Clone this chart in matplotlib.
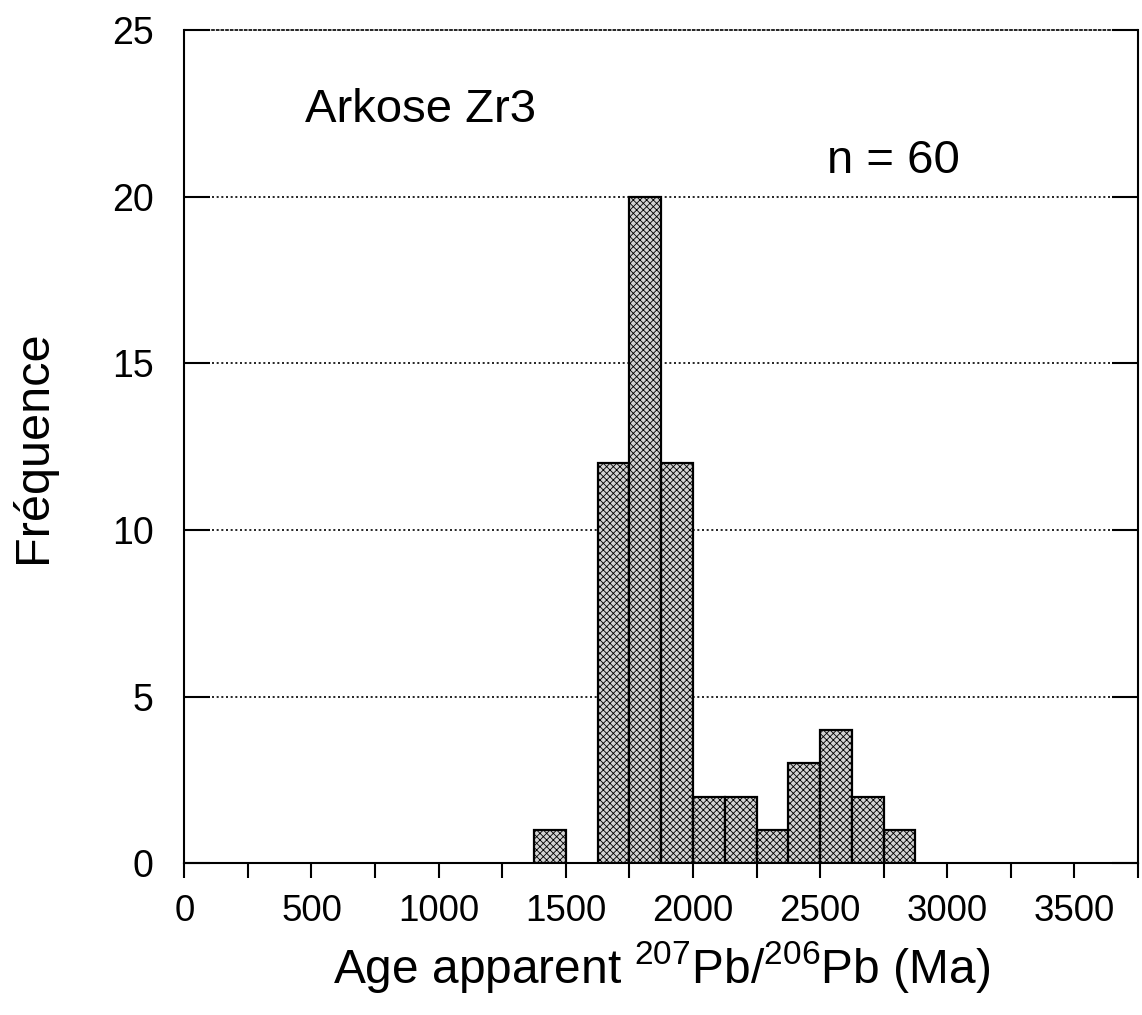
import numpy as np
import matplotlib
matplotlib.use('Agg')
import matplotlib.pyplot as plt
from matplotlib.ticker import MultipleLocator

plt.rcParams['font.family'] = ['Liberation Sans', 'DejaVu Sans']
plt.rcParams['mathtext.fontset'] = 'custom'
plt.rcParams['mathtext.rm'] = 'Liberation Sans'
plt.rcParams['hatch.linewidth'] = 0.6
plt.rcParams['hatch.color'] = '#7a7a7a'

# Histogram data (bin start in Ma, count per 125 Ma bin)
bin_starts = [1375, 1625, 1750, 1875, 2000, 2125, 2250, 2375, 2500, 2625, 2750]
counts = [1, 12, 20, 12, 2, 2, 1, 3, 4, 2, 1]
bin_width = 125

sample_name = 'Arkose Zr3'
n_label = 'n = 60'
x_ticks = [0, 500, 1000, 1500, 2000, 2500, 3000, 3500]
y_ticks = [0, 5, 10, 15, 20, 25]

fig = plt.figure(figsize=(11.42, 10.15), dpi=100)
ax = fig.add_axes([0.1614, 0.1493, 0.9965 - 0.1614, 0.9704 - 0.1493])

ax.bar(bin_starts, counts, width=bin_width, align='edge',
       facecolor='#d2d2d2', edgecolor='black', linewidth=1.6,
       hatch='xxxxx', zorder=3)

ax.set_xlim(0, 3750)
ax.set_ylim(0, 25)

# dotted horizontal grid
for y in y_ticks[1:-1]:
    ax.axhline(y, color='black', linestyle=(0, (1.2, 1.6)), linewidth=1.2, zorder=1)

ax.set_xticks(x_ticks)
ax.xaxis.set_minor_locator(MultipleLocator(250))
ax.set_yticks(y_ticks)
ax.tick_params(axis='x', which='both', direction='out', length=11, width=1.5,
               labelsize=26.5, pad=11)
ax.tick_params(axis='y', which='major', direction='in', length=19, width=1.5,
               labelsize=27, right=True, pad=22)

for s in ['left', 'right', 'bottom']:
    ax.spines[s].set_linewidth(1.5)
ax.spines['top'].set_linestyle((0, (1.2, 1.6)))
ax.spines['top'].set_linewidth(1.2)

ax.text(476, 22.24, sample_name, fontsize=34, ha='left', va='baseline')
ax.text(2529, 20.71, n_label, fontsize=34, ha='left', va='baseline')

ax.set_xlabel(r'Age apparent $^{207}$Pb/$^{206}$Pb (Ma)', fontsize=34.5, labelpad=7)
ax.set_ylabel('Fréquence', fontsize=35, labelpad=40)

fig.savefig('out.png', dpi=100)
